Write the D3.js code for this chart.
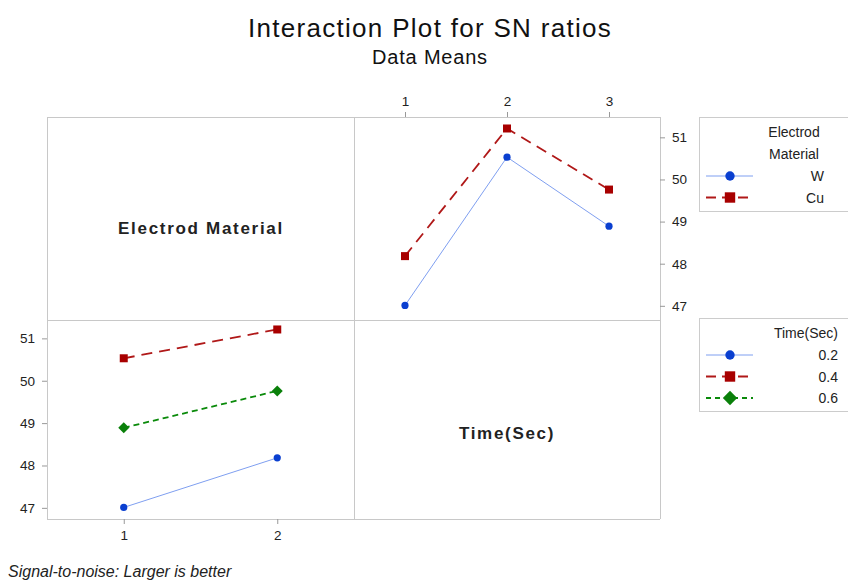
<!DOCTYPE html>
<html><head><meta charset="utf-8">
<script src="https://cdn.jsdelivr.net/npm/d3@7"></script>
<style>body{margin:0;background:#fff}svg{display:block}text{font-family:"Liberation Sans",Arial,sans-serif}</style>
</head><body>
<svg id="c" width="848" height="581"></svg>
<script>
// Data
const timeLevels = [1, 2, 3];
const materialLevels = [1, 2];
const materialNames = ["W", "Cu"];
const timeNames = ["0.2", "0.4", "0.6"];
const snW  = [47.01, 50.53, 48.89];   // Electrod Material W across Time levels
const snCu = [48.18, 51.21, 49.76];   // Electrod Material Cu across Time levels
const yTicks = [47, 48, 49, 50, 51];

const svg = d3.select("#c");
const L = 47, M = 354, R = 660, T = 117, MID = 320, B = 519;
const gridColor = "#c8c8c8";

const styles = [
  {stroke:"#7f9ff0", width:1, dash:null, marker:"circle", fill:"#0a3fd0"},
  {stroke:"#b01818", width:1.8, dash:"11,7", marker:"square", fill:"#a80000"},
  {stroke:"#0a8a0a", width:1.8, dash:"6,4", marker:"diamond", fill:"#0a800a"}
];
function drawMarker(g, type, x, y, fill, s){
  s = s || 1;
  if(type==="circle") g.append("circle").attr("cx",x).attr("cy",y).attr("r",3.6*s).attr("fill",fill);
  else if(type==="square") g.append("rect").attr("x",x-4*s).attr("y",y-4*s).attr("width",8*s).attr("height",8*s).attr("fill",fill);
  else g.append("path").attr("d",`M${x},${y-5.5*s}L${x+5.5*s},${y}L${x},${y+5.5*s}L${x-5.5*s},${y}Z`).attr("fill",fill);
}

// Title
svg.append("text").attr("x",430).attr("y",37).attr("text-anchor","middle").attr("font-size",26).attr("letter-spacing",1.3).attr("fill","#111").text("Interaction Plot for SN ratios");
svg.append("text").attr("x",430).attr("y",64).attr("text-anchor","middle").attr("font-size",20).attr("letter-spacing",0.8).attr("fill","#111").text("Data Means");

// Grid frame
const grid = svg.append("g").attr("stroke",gridColor).attr("stroke-width",1).attr("fill","none");
[T, MID, B].forEach(y=>grid.append("line").attr("x1",L).attr("x2",R).attr("y1",y+0.5).attr("y2",y+0.5));
[L, M, R].forEach(x=>grid.append("line").attr("x1",x+0.5).attr("x2",x+0.5).attr("y1",T).attr("y2",B));

// Diagonal labels
svg.append("text").attr("x",201).attr("y",234).attr("text-anchor","middle").attr("font-size",17).attr("font-weight","bold").attr("fill","#222").attr("letter-spacing",1.7).text("Electrod Material");
svg.append("text").attr("x",507).attr("y",439).attr("text-anchor","middle").attr("font-size",17).attr("font-weight","bold").attr("fill","#222").attr("letter-spacing",1.7).text("Time(Sec)");

function styleAxis(g){
  g.selectAll(".domain").remove();
  g.selectAll(".tick line").attr("stroke","#999");
  g.selectAll(".tick text").attr("font-size",13.5).attr("fill","#222").attr("font-family","Liberation Sans, Arial, sans-serif");
}
const fmt = d3.format("d");

// Top-right panel: x = Time, series = Electrod Material
const xTR = d3.scaleLinear().domain([0.5, 3.5]).range([M, R]);
const yTR = d3.scaleLinear().domain([46.68, 51.49]).range([319.3, 116.7]);
const gTop = svg.append("g").attr("transform",`translate(0,${T})`).call(d3.axisTop(xTR).tickValues(timeLevels).tickFormat(fmt).tickSize(5).tickPadding(6));
styleAxis(gTop);
const gRight = svg.append("g").attr("transform",`translate(${R},0)`).call(d3.axisRight(yTR).tickValues(yTicks).tickFormat(fmt).tickSize(5).tickPadding(7));
styleAxis(gRight);

const seriesTR = [snW, snCu];
const lineTR = d3.line().x((d,i)=>xTR(timeLevels[i])).y(d=>yTR(d));
seriesTR.forEach((s,k)=>{
  const st = styles[k];
  svg.append("path").attr("d",lineTR(s)).attr("fill","none").attr("stroke",st.stroke).attr("stroke-width",st.width).attr("stroke-dasharray",st.dash);
  const g = svg.append("g");
  s.forEach((v,i)=>drawMarker(g, st.marker, xTR(timeLevels[i]), yTR(v), st.fill));
});

// Bottom-left panel: x = Electrod Material, series = Time
const xBL = d3.scaleLinear().domain([0.5, 2.5]).range([L, M]);
const yBL = d3.scaleLinear().domain([46.73, 51.45]).range([519.3, 319.3]);
const gBottom = svg.append("g").attr("transform",`translate(0,${B})`).call(d3.axisBottom(xBL).tickValues(materialLevels).tickFormat(fmt).tickSize(5).tickPadding(6));
styleAxis(gBottom);
const gLeft = svg.append("g").attr("transform",`translate(${L},0)`).call(d3.axisLeft(yBL).tickValues(yTicks).tickFormat(fmt).tickSize(5).tickPadding(7));
styleAxis(gLeft);

const seriesBL = timeLevels.map((t,i)=>[snW[i], snCu[i]]);
const lineBL = d3.line().x((d,i)=>xBL(materialLevels[i])).y(d=>yBL(d));
seriesBL.forEach((s,k)=>{
  const st = styles[k];
  svg.append("path").attr("d",lineBL(s)).attr("fill","none").attr("stroke",st.stroke).attr("stroke-width",st.width).attr("stroke-dasharray",st.dash);
  const g = svg.append("g");
  s.forEach((v,i)=>drawMarker(g, st.marker, xBL(materialLevels[i]), yBL(v), st.fill));
});

// Legends
function legend(y0, h, titleLines, names, titleAnchor){
  const g = svg.append("g");
  g.append("rect").attr("x",699.5).attr("y",y0+0.5).attr("width",160).attr("height",h).attr("fill","#fff").attr("stroke","#ccc");
  let y = y0 + 20;
  titleLines.forEach(t=>{
    g.append("text").attr("x",titleAnchor.x).attr("y",y).attr("text-anchor",titleAnchor.a).attr("font-size",14).attr("fill","#222").text(t);
    y += 22;
  });
  names.forEach((n,k)=>{
    const st = styles[k];
    const yy = y - 5;
    g.append("line").attr("x1",706).attr("x2",753).attr("y1",yy).attr("y2",yy).attr("stroke",st.stroke).attr("stroke-width",st.width).attr("stroke-dasharray",st.dash==="11,7"?"10,6":st.dash==="6,4"?"5,4":null);
    drawMarker(g, st.marker, 730, yy, st.fill, 1.3);
    g.append("text").attr("x",titleAnchor.nx).attr("y",y).attr("text-anchor","end").attr("font-size",14).attr("fill","#222").text(n);
    y += 21.5;
  });
}
legend(117, 94, ["Electrod","Material"], materialNames, {x:794, a:"middle", nx:824});
legend(318, 93, ["Time(Sec)"], timeNames, {x:838, a:"end", nx:838});

// Footer
svg.append("text").attr("x",8).attr("y",577).attr("font-size",16).attr("font-style","italic").attr("font-family","'Open Sans',sans-serif").attr("fill","#222").text("Signal-to-noise: Larger is better");
</script>
</body></html>
